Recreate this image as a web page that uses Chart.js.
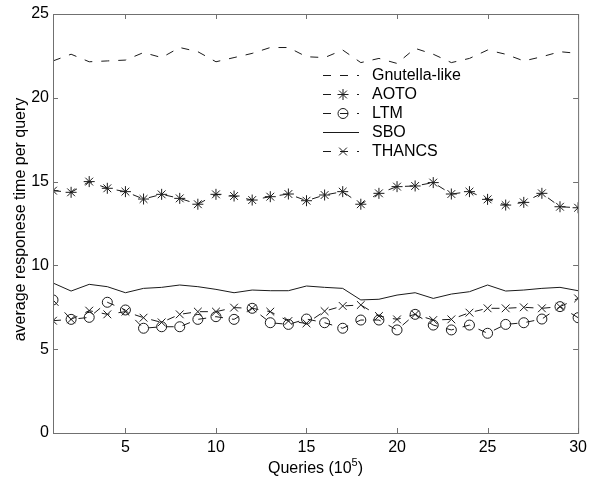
<!DOCTYPE html>
<html lang="en">

<head>
    <meta charset="UTF-8" />
    <title>Average response time per query</title>
    <script src="https://cdn.jsdelivr.net/npm/chart.js"></script>
    <style>
        html,
        body {
            margin: 0;
            padding: 0;
            background: #fff;
        }

        #wrap {
            width: 592px;
            height: 482px;
        }
    </style>
</head>

<body>
    <div id="wrap"><canvas id="respChart" width="592" height="482"></canvas></div>

    <script>
        // queries, in units of 10^5
        const queries = [1, 2, 3, 4, 5, 6, 7, 8, 9, 10, 11, 12, 13, 14, 15,
            16, 17, 18, 19, 20, 21, 22, 23, 24, 25, 26, 27, 28, 29, 30];

        const gnutella = [22.2, 22.6, 22.15, 22.2, 22.25, 22.7, 22.4, 23.0, 22.75, 22.15,
            22.4, 22.65, 23.0, 23.0, 22.45, 22.4, 22.85, 22.1, 22.35, 22.05,
            22.95, 22.6, 22.1, 22.35, 22.85, 22.6, 22.2, 22.45, 22.75, 22.65];
        const aoto = [14.46, 14.36, 15.0, 14.6, 14.4, 13.96, 14.24, 14.0, 13.65, 14.24,
            14.14, 13.9, 14.1, 14.26, 13.86, 14.2, 14.4, 13.65, 14.3, 14.7,
            14.74, 14.94, 14.26, 14.4, 13.94, 13.6, 13.76, 14.3, 13.5, 13.44];
        const ltm = [7.94, 6.78, 6.9, 7.8, 7.34, 6.25, 6.34, 6.34, 6.78, 6.94,
            6.78, 7.44, 6.58, 6.48, 6.8, 6.58, 6.25, 6.74, 6.74, 6.15,
            7.08, 6.44, 6.15, 6.44, 5.95, 6.48, 6.58, 6.8, 7.54, 6.88];
        const sbo = [8.95, 8.47, 8.87, 8.73, 8.37, 8.63, 8.69, 8.83, 8.73, 8.57,
            8.37, 8.53, 8.49, 8.49, 8.77, 8.69, 8.63, 7.94, 7.98, 8.23,
            8.37, 8.03, 8.29, 8.43, 8.83, 8.47, 8.53, 8.63, 8.69, 8.49];
        const thancs = [6.7, 6.78, 7.3, 7.08, 7.24, 6.88, 6.6, 7.08, 7.24, 7.24,
            7.48, 7.44, 7.24, 6.68, 6.54, 7.27, 7.58, 7.64, 6.98, 6.78,
            7.08, 6.74, 6.78, 7.18, 7.44, 7.44, 7.5, 7.44, 7.54, 8.03];

        const xTicks = [5, 10, 15, 20, 25, 30];
        const yTicks = [0, 5, 10, 15, 20, 25];

        const FONT = '"Liberation Sans", Arial, sans-serif';
        const INK = '#1a1a1a';
        const DASH = [8, 9];

        function pts(arr) {
            return queries.map((q, i) => ({ x: q, y: arr[i] }));
        }

        function series(label, arr, style, dashed) {
            return {
                label: label,
                data: pts(arr),
                borderColor: INK,
                borderWidth: 1,
                borderDash: dashed ? DASH : [],
                pointStyle: style || 'circle',
                pointRadius: style ? (style === 'circle' ? 5 : 5.5) : 0,
                pointBorderColor: INK,
                pointBackgroundColor: 'rgba(0,0,0,0)',
                pointBorderWidth: 1,
                fill: false,
                tension: 0
            };
        }

        const datasets = [
            series('Gnutella-like', gnutella, null, true),
            series('AOTO', aoto, 'star', true),
            series('LTM', ltm, 'circle', true),
            series('SBO', sbo, null, false),
            series('THANCS', thancs, 'crossRot', true)
        ];

        // box, inward ticks, axis titles and the legend
        const framePlugin = {
            id: 'frame',
            afterDraw(chart) {
                const ctx = chart.ctx;
                const a = chart.chartArea;
                const xs = chart.scales.x;
                const ys = chart.scales.y;
                ctx.save();

                ctx.strokeStyle = '#707070';
                ctx.lineWidth = 1;
                ctx.setLineDash([]);
                ctx.strokeRect(a.left + 0.5, a.top + 0.5, a.right - a.left, a.bottom - a.top);

                ctx.beginPath();
                xTicks.forEach(v => {
                    const px = Math.round(xs.getPixelForValue(v)) + 0.5;
                    ctx.moveTo(px, a.bottom);
                    ctx.lineTo(px, a.bottom - 5);
                    ctx.moveTo(px, a.top);
                    ctx.lineTo(px, a.top + 5);
                });
                yTicks.forEach(v => {
                    const py = Math.round(ys.getPixelForValue(v)) + 0.5;
                    ctx.moveTo(a.left, py);
                    ctx.lineTo(a.left + 5, py);
                    ctx.moveTo(a.right, py);
                    ctx.lineTo(a.right - 5, py);
                });
                ctx.stroke();

                // x title with superscript exponent
                ctx.fillStyle = '#000';
                ctx.font = '16px ' + FONT;
                ctx.textBaseline = 'alphabetic';
                ctx.textAlign = 'left';
                const head = 'Queries (10', tail = ')';
                const supFont = '11px ' + FONT;
                const wHead = ctx.measureText(head).width;
                const wTail = ctx.measureText(tail).width;
                ctx.font = supFont;
                const wSup = ctx.measureText('5').width;
                const cx = (a.left + a.right) / 2;
                let tx = cx - (wHead + wSup + wTail) / 2;
                const base = 473;
                ctx.font = '16px ' + FONT;
                ctx.fillText(head, tx, base);
                tx += wHead;
                ctx.font = supFont;
                ctx.fillText('5', tx, base - 7);
                tx += wSup;
                ctx.font = '16px ' + FONT;
                ctx.fillText(tail, tx, base);

                // y title
                ctx.save();
                ctx.translate(21, (a.top + a.bottom) / 2 - 4);
                ctx.rotate(-Math.PI / 2);
                ctx.textAlign = 'center';
                ctx.textBaseline = 'middle';
                ctx.fillText('average responese time per query', 0, 0);
                ctx.restore();

                // legend
                const lx = 323, lineLen = 36, textX = 372, rowY = 75, rowGap = 19;
                chart.data.datasets.forEach((ds, i) => {
                    const y = rowY + i * rowGap + 0.5;
                    ctx.strokeStyle = ds.borderColor;
                    ctx.lineWidth = ds.borderWidth;
                    ctx.setLineDash(ds.borderDash);
                    ctx.beginPath();
                    ctx.moveTo(lx, y);
                    ctx.lineTo(lx + lineLen, y);
                    ctx.stroke();
                    ctx.setLineDash([]);
                    if (ds.pointRadius > 0) {
                        ctx.fillStyle = ds.pointBackgroundColor;
                        Chart.helpers.drawPoint(ctx, {
                            pointStyle: ds.pointStyle,
                            radius: ds.pointRadius,
                            borderWidth: ds.pointBorderWidth,
                            rotation: 0
                        }, lx + 20, y);
                    }
                    ctx.fillStyle = '#000';
                    ctx.font = '16px ' + FONT;
                    ctx.textAlign = 'left';
                    ctx.textBaseline = 'middle';
                    ctx.fillText(ds.label, textX, y);
                });

                ctx.restore();
            }
        };

        new Chart(document.getElementById('respChart'), {
            type: 'line',
            data: { datasets: datasets },
            options: {
                responsive: false,
                animation: false,
                events: [],
                layout: { padding: { top: 14, right: 10, left: 0, bottom: 0 } },
                plugins: {
                    legend: { display: false },
                    tooltip: { enabled: false }
                },
                scales: {
                    x: {
                        type: 'linear',
                        min: 1,
                        max: 30,
                        grid: { display: false, drawTicks: false },
                        border: { display: false },
                        afterBuildTicks: s => { s.ticks = xTicks.map(v => ({ value: v })); },
                        afterFit: s => { s.height = 49; },
                        ticks: {
                            color: '#000',
                            padding: 5,
                            maxRotation: 0,
                            font: { family: FONT, size: 16 }
                        }
                    },
                    y: {
                        min: 0,
                        max: 25,
                        grid: { display: false, drawTicks: false },
                        border: { display: false },
                        afterBuildTicks: s => { s.ticks = yTicks.map(v => ({ value: v })); },
                        afterFit: s => { s.width = 53; },
                        ticks: {
                            color: '#000',
                            padding: 4,
                            font: { family: FONT, size: 16 }
                        }
                    }
                }
            },
            plugins: [framePlugin]
        });
    </script>
</body>

</html>
